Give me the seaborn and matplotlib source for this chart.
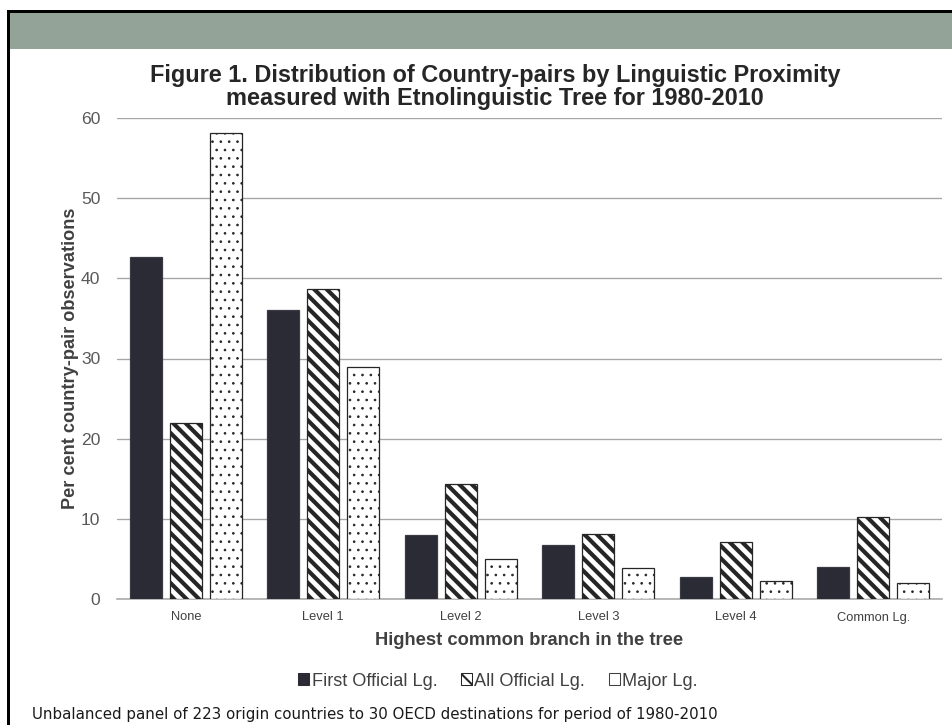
import matplotlib
matplotlib.use("Agg")
import matplotlib.pyplot as plt
from matplotlib.patches import Rectangle, Patch
import seaborn as sns
import pandas as pd

# Share of country-pair observations (%) by highest common branch
categories = ["None", "Level 1", "Level 2", "Level 3", "Level 4", "Common Lg."]
first_official = [42.6, 36.0, 8.0, 6.7, 2.7, 4.0]
all_official = [21.9, 38.7, 14.3, 8.1, 7.1, 10.2]
major = [58.1, 28.9, 5.0, 3.9, 2.3, 2.0]
series_names = ["First Official Lg.", "All Official Lg.", "Major Lg."]
y_ticks = [0, 10, 20, 30, 40, 50, 60]

df = pd.DataFrame({
    "branch": categories * 3,
    "measure": [series_names[0]] * 6 + [series_names[1]] * 6 + [series_names[2]] * 6,
    "pct": first_official + all_official + major,
})

DPI = 150
W, H = 952, 725

sns.set_theme(style="white")
plt.rcParams["font.family"] = ["Liberation Sans", "DejaVu Sans"]

fig = plt.figure(figsize=(W / DPI, H / DPI), dpi=DPI)
fig.patch.set_facecolor("white")

# frame: black border on top/left and a grey-green header band
fig.add_artist(Rectangle((10 / W, 1 - 49 / H), (W - 10) / W, 36 / H,
                         transform=fig.transFigure, facecolor="#94a397",
                         edgecolor="none", zorder=0))
fig.add_artist(Rectangle((7 / W, 0), 3 / W, 1 - 10 / H, transform=fig.transFigure,
                         facecolor="black", edgecolor="none", zorder=1))
fig.add_artist(Rectangle((7 / W, 1 - 13 / H), (W - 7) / W, 3 / H,
                         transform=fig.transFigure, facecolor="black",
                         edgecolor="none", zorder=1))

ax = fig.add_axes([117 / W, 1 - 599 / H, (942 - 117) / W, (599 - 118) / H])

palette = {series_names[0]: "#2b2b35", series_names[1]: "white", series_names[2]: "white"}
with plt.rc_context({"hatch.linewidth": 2.0}):
    sns.barplot(data=df, x="branch", y="pct", hue="measure", order=categories,
                hue_order=series_names, palette=palette, width=0.87, gap=0.2,
                saturation=1, edgecolor="#2b2b35", linewidth=0.6, legend=False,
                ax=ax, zorder=3)

hatches = [None, "\\\\\\\\", "..."]
for cont, h in zip(ax.containers, hatches):
    for bar in cont:
        if h is None:
            bar.set_edgecolor("#3a3a44")
            continue
        bar.set_hatch(h)
        bar.set_edgecolor("#262626")
        lw = 0.45 if h == "..." else 2.0
        try:
            bar.set_hatch_linewidth(lw)
        except AttributeError:
            pass

ax.set_ylim(0, 60)
ax.set_yticks(y_ticks)
ax.set_xlim(-0.5, len(categories) - 0.5)
ax.yaxis.grid(True, color="#a6a6a6", linewidth=0.65, zorder=0)
ax.set_axisbelow(True)
for s in ["top", "right", "left"]:
    ax.spines[s].set_visible(False)
ax.spines["bottom"].set_color("#a6a6a6")
ax.spines["bottom"].set_linewidth(0.75)
ax.tick_params(axis="both", length=0)
ax.tick_params(axis="y", labelsize=8.4, labelcolor="#595959", pad=8)
ax.tick_params(axis="x", labelsize=6.2, labelcolor="#404040", pad=6)

ax.set_xlabel("Highest common branch in the tree", fontsize=8.8, fontweight="bold",
              color="#404040", labelpad=4)
ax.set_ylabel("Per cent country-pair observations", fontsize=8.7, fontweight="bold",
              color="#404040", labelpad=1)

fig.text(495 / W, 1 - 87 / H,
         "Figure 1. Distribution of Country-pairs by Linguistic Proximity\n"
         "measured with Etnolinguistic Tree for 1980-2010",
         ha="center", va="center", fontsize=11.3, fontweight="bold",
         color="#262626", linespacing=0.95)

handles = [
    Patch(facecolor="#2b2b35", edgecolor="#2b2b35", linewidth=0.5),
    Patch(facecolor="white", edgecolor="#262626", hatch="\\\\\\\\", linewidth=0.5),
    Patch(facecolor="white", edgecolor="#404040", linewidth=0.5),
]
leg = fig.legend(handles, series_names, loc="center", ncol=3,
                 bbox_to_anchor=(498 / W, 1 - 681 / H), frameon=False,
                 fontsize=8.7, handlelength=0.6, handleheight=0.6,
                 handletextpad=0.15, columnspacing=1.3, labelcolor="#404040")

fig.text(32 / W, 1 - 715 / H,
         "Unbalanced panel of 223 origin countries to 30 OECD destinations for period of 1980-2010",
         ha="left", va="center", fontsize=7.2, color="#1a1a1a",
         family=["DejaVu Sans"])

fig.savefig("out.png", dpi=DPI, facecolor="white")
